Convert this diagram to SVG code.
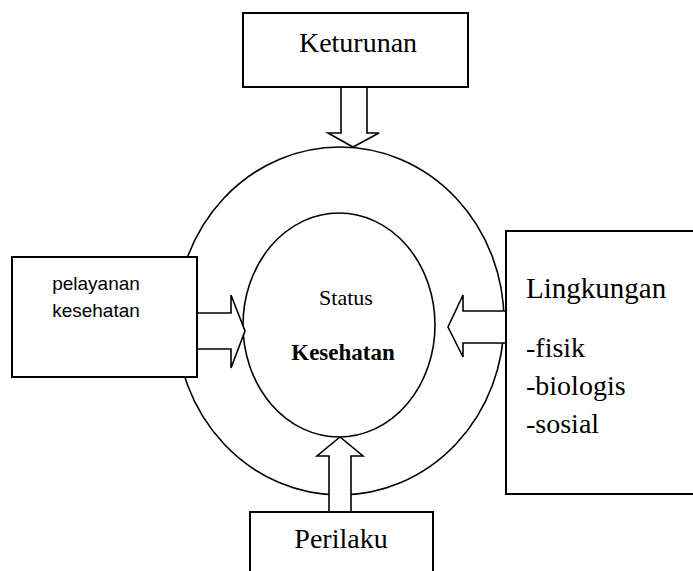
<svg xmlns="http://www.w3.org/2000/svg" width="693" height="571" viewBox="0 0 693 571">
<style>
.box{fill:#fff;stroke:#000;stroke-width:2}
.ring{fill:none;stroke:#000;stroke-width:1.6}
.arr{fill:#fff;stroke:#000;stroke-width:1.6;stroke-linejoin:miter}
.serif{font-family:"Liberation Serif","Times New Roman",serif;fill:#000}
.sans{font-family:"Liberation Sans",Arial,sans-serif;fill:#000}
</style>
<rect width="693" height="571" fill="#fff"/>
<g id="outer-circle"><ellipse class="ring" cx="340" cy="321" rx="164" ry="174"/></g>
<g id="status-kesehatan">
<ellipse class="ring" cx="339" cy="325" rx="96" ry="112"/>
<text class="serif" x="346" y="305" font-size="22" text-anchor="middle">Status</text>
<text class="serif" x="343" y="360" font-size="23" font-weight="bold" text-anchor="middle">Kesehatan</text>
</g>
<g id="connectors">
<polygon class="arr" points="341,87 367,87 367,133 379,133 353,147 328,133 341,133"/>
<polygon class="arr" points="197,313 231,313 231,295 245,331 231,368 231,349 197,349"/>
<polygon class="arr" points="506,311 463,311 463,295 448,327 463,357 463,343 506,343"/>
<polygon class="arr" points="329,512 329,456 317,456 340,437 363,456 351,456 351,512"/>
</g>
<g id="keturunan">
<rect class="box" x="243" y="13" width="225" height="74"/>
<text class="serif" x="358" y="52" font-size="28" text-anchor="middle">Keturunan</text>
</g>
<g id="pelayanan-kesehatan">
<rect class="box" x="12" y="257" width="185" height="120"/>
<text class="sans" x="96" y="290" font-size="19" text-anchor="middle">pelayanan</text>
<text class="sans" x="96" y="317" font-size="19" text-anchor="middle">kesehatan</text>
</g>
<g id="lingkungan">
<rect class="box" x="506" y="231" width="200" height="263"/>
<text class="serif" x="526" y="298" font-size="29">Lingkungan</text>
<text class="serif" x="526" y="357" font-size="28">-fisik</text>
<text class="serif" x="526" y="395" font-size="28">-biologis</text>
<text class="serif" x="526" y="433" font-size="28">-sosial</text>
</g>
<g id="perilaku">
<rect class="box" x="250" y="512" width="183" height="80"/>
<text class="serif" x="341" y="548" font-size="28" text-anchor="middle">Perilaku</text>
</g>
</svg>
